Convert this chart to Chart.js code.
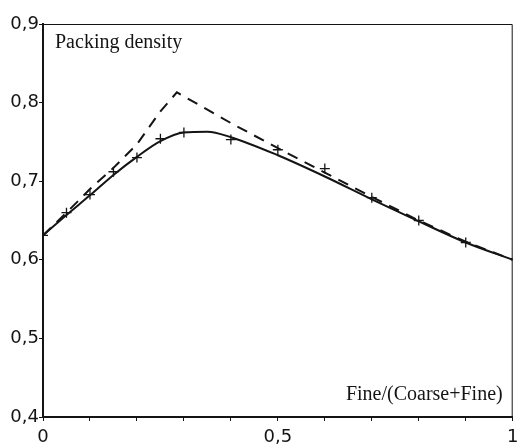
<!DOCTYPE html>
<html lang="en">
<head>
  <meta charset="UTF-8">
  <title>Packing density</title>
  <script src="https://cdn.jsdelivr.net/npm/chart.js"></script>
  <style>
    html, body { margin: 0; padding: 0; background: #fff; }
    #wrap { width: 519px; height: 444px; }
  </style>
</head>
<body>
  <div id="wrap"><canvas id="chart"></canvas></div>

  <script>
    // smooth (solid) curve
    const solidX = [0, 0.05, 0.1, 0.15, 0.2, 0.25, 0.3, 0.35, 0.4, 0.5, 0.6, 0.7, 0.8, 0.9, 1.0];
    const solidY = [0.631, 0.657, 0.682, 0.708, 0.731, 0.751, 0.762, 0.763, 0.756, 0.733, 0.706, 0.677, 0.649, 0.622, 0.600];
    // dashed curve with the sharp peak
    const dashX = [0, 0.05, 0.1, 0.15, 0.2, 0.25, 0.285, 0.35, 0.4, 0.5, 0.6, 0.7, 0.8, 0.9, 1.0];
    const dashY = [0.631, 0.660, 0.690, 0.717, 0.747, 0.789, 0.813, 0.791, 0.774, 0.742, 0.711, 0.680, 0.650, 0.623, 0.600];
    // measured points (+)
    const pointX = [0, 0.05, 0.1, 0.15, 0.2, 0.25, 0.3, 0.4, 0.5, 0.6, 0.7, 0.8, 0.9];
    const pointY = [0.631, 0.660, 0.683, 0.712, 0.730, 0.754, 0.762, 0.753, 0.740, 0.716, 0.679, 0.650, 0.622];
    // tick labels
    const xLabels = [0, 0.5, 1];
    const yLabels = [0.4, 0.5, 0.6, 0.7, 0.8, 0.9];

    const ink = '#141414';
    const toPts = (xs, ys) => xs.map((x, i) => ({ x: x, y: ys[i] }));
    const comma = v => String(Math.round(v * 10) / 10).replace('.', ',');

    // box round the plot and the two texts inside it
    const framePlugin = {
      id: 'frame',
      afterDraw(chart) {
        const { ctx, chartArea: a } = chart;
        ctx.save();
        ctx.strokeStyle = ink;
        ctx.lineWidth = 1;
        ctx.beginPath();
        ctx.moveTo(a.left, a.top + 0.5);
        ctx.lineTo(a.right - 0.5, a.top + 0.5);
        ctx.lineTo(a.right - 0.5, a.bottom);
        ctx.stroke();

        ctx.fillStyle = ink;
        ctx.font = '20px "Liberation Serif", serif';
        ctx.textBaseline = 'alphabetic';
        ctx.textAlign = 'left';
        ctx.fillText('Packing density', a.left + 12, a.top + 24);
        ctx.textAlign = 'right';
        ctx.fillText('Fine/(Coarse+Fine)', a.right - 10, a.bottom - 17);
        ctx.restore();
      }
    };

    new Chart(document.getElementById('chart').getContext('2d'), {
      type: 'line',
      data: {
        datasets: [
          { data: toPts(solidX, solidY), borderColor: ink, borderWidth: 2, pointRadius: 0,
            tension: 0.4, cubicInterpolationMode: 'monotone', fill: false },
          { data: toPts(dashX, dashY), borderColor: ink, borderWidth: 2, borderDash: [11, 8],
            pointRadius: 0, tension: 0, fill: false },
          { data: toPts(pointX, pointY), showLine: false, pointStyle: 'cross', pointRadius: 5,
            pointBorderColor: ink, pointBorderWidth: 1.3 }
        ]
      },
      options: {
        responsive: true,
        maintainAspectRatio: false,
        animation: false,
        layout: { padding: { top: 24, right: 6, left: 0, bottom: 0 } },
        plugins: { legend: { display: false }, tooltip: { enabled: false } },
        scales: {
          x: {
            type: 'linear', min: 0, max: 1,
            ticks: {
              stepSize: 0.1, autoSkip: false, maxRotation: 0, padding: 6,
              color: ink, font: { family: 'DejaVu Sans', size: 18 },
              callback: v => xLabels.some(l => Math.abs(l - v) < 1e-6) ? comma(v) : ''
            },
            grid: { drawOnChartArea: false, drawTicks: true, tickLength: 4, color: ink, lineWidth: 1 },
            border: { color: ink, width: 2 },
            afterFit: s => { s.height = 27; s.paddingLeft = 0; s.paddingRight = 0; }
          },
          y: {
            min: 0.4, max: 0.9,
            ticks: {
              stepSize: 0.1, padding: 0,
              color: ink, font: { family: 'DejaVu Sans', size: 18 },
              callback: v => yLabels.some(l => Math.abs(l - v) < 1e-6) ? comma(v) : ''
            },
            grid: { drawOnChartArea: false, drawTicks: true, tickLength: 4, color: ink, lineWidth: 1 },
            border: { color: ink, width: 2 },
            afterFit: s => { s.width = 43; s.paddingTop = 0; s.paddingBottom = 0; }
          }
        }
      },
      plugins: [framePlugin]
    });
  </script>
</body>
</html>
